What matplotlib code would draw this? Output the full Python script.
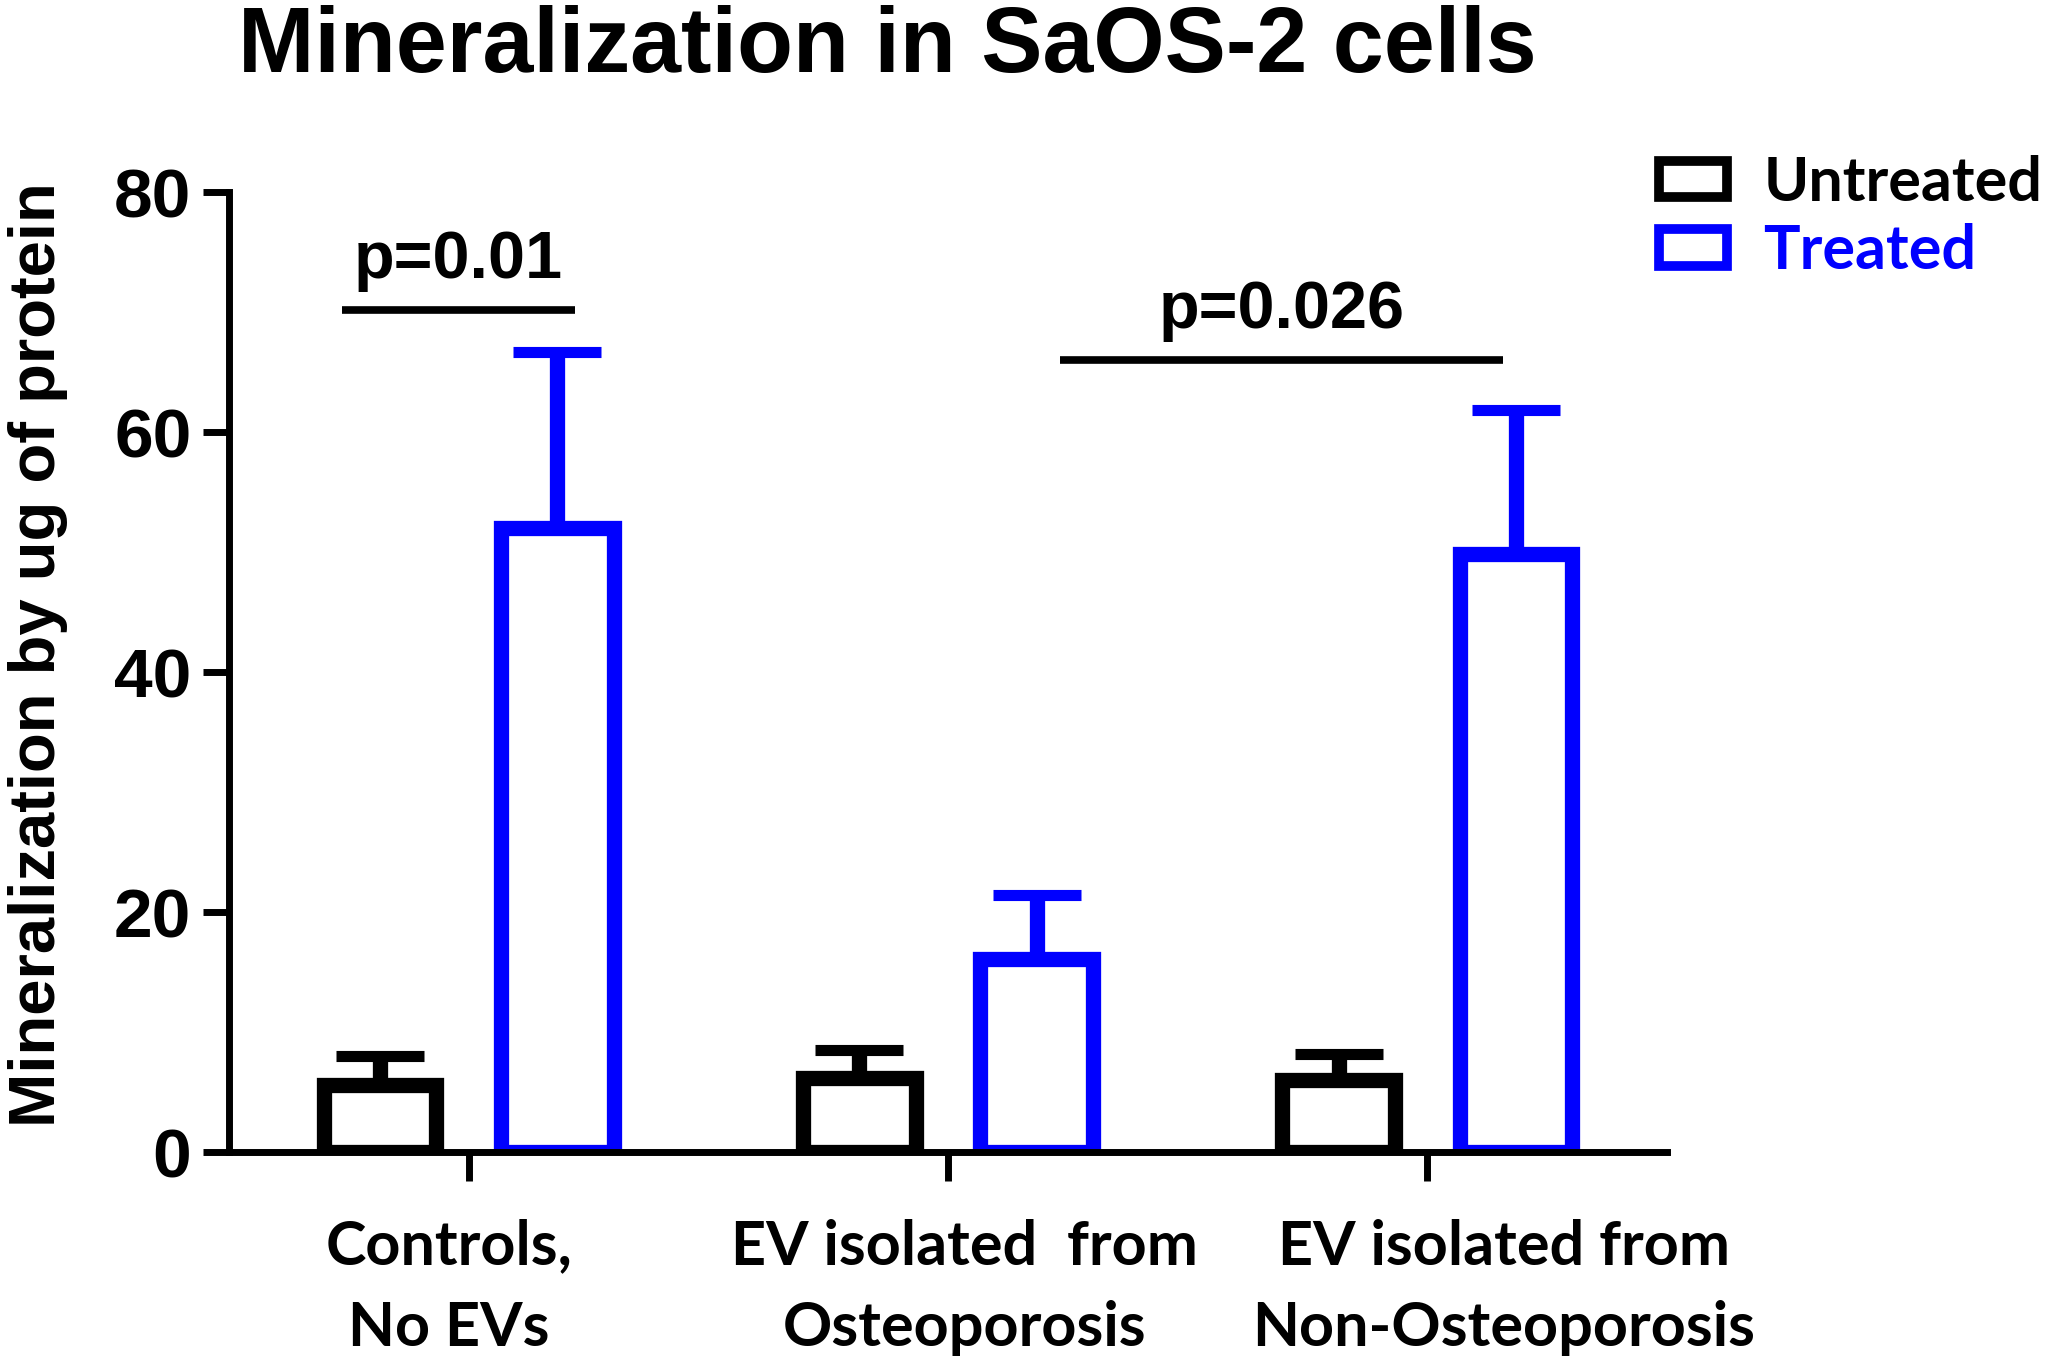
import numpy as np
import matplotlib.pyplot as plt
from matplotlib.patches import Patch

categories = ["Controls,\nNo EVs", "EV isolated  from\nOsteoporosis", "EV isolated from\nNon-Osteoporosis"]
untreated = [5.6, 6.2, 6.0]
untreated_err = [2.4, 2.3, 2.2]
treated = [52.0, 16.1, 49.8]
treated_err = [14.7, 5.3, 12.0]
series_names = ["Untreated", "Treated"]
pvalues = ["p=0.01", "p=0.026"]
p_levels = [70.2, 66.0]
p_spans = [(-0.264, 0.221), (1.234, 2.158)]

BLUE = "#0000ff"
x = np.arange(len(categories))
w = 0.235
off = 0.185

fig = plt.figure(figsize=(20.5, 13.63), dpi=100)
ax = fig.add_axes([0.1117, 0.1548, 0.7015, 0.7043])

lw_bar = 11
for vals, errs, sign, col in [(untreated, untreated_err, -1, "black"), (treated, treated_err, 1, BLUE)]:
    ax.bar(x + sign * off, vals, width=w, facecolor="white", edgecolor=col, linewidth=lw_bar, joinstyle="miter")
    ax.errorbar(x + sign * off, vals, yerr=[np.zeros(len(vals)), errs], fmt="none",
                ecolor=col, elinewidth=lw_bar, capsize=32, capthick=8)

# significance bars
for (x0, x1), lev, txt in zip(p_spans, p_levels, pvalues):
    ax.plot([x0, x1], [lev, lev], color="black", linewidth=5.5, solid_capstyle="butt")
    ax.text((x0 + x1) / 2, lev + 1.5, txt, ha="center", va="bottom",
            fontsize=48, fontweight="bold", family="Liberation Sans")

ax.set_xlim(-0.5, 2.5)
ax.set_ylim(0, 80)
ax.set_yticks([0, 20, 40, 60, 80])
ax.set_xticks(x)
ax.set_xticklabels([""] * len(categories))
# category labels, a little off-centre like in the original
shifts = [-14, 12, 55]
for xi, cat, dx in zip(x, categories, shifts):
    ax.annotate(cat, xy=(xi, 0), xycoords=("data", "axes fraction"), xytext=(dx, -48),
                textcoords="offset points", ha="center", va="top", fontsize=44,
                fontweight="bold", family="Lato", linespacing=1.56, annotation_clip=False)
for lab in ax.get_yticklabels():
    lab.set_fontsize(50)
    lab.set_fontweight("bold")
    lab.set_family("Liberation Sans")
ax.tick_params(axis="y", length=19, width=5, pad=8)
ax.tick_params(axis="x", length=21, width=5)

for s in ["top", "right"]:
    ax.spines[s].set_visible(False)
for s in ["left", "bottom"]:
    ax.spines[s].set_linewidth(5)

ax.set_ylabel("Mineralization by ug of protein", fontsize=47, fontweight="bold",
              family="Liberation Sans")
ax.yaxis.set_label_coords(-0.112, 0.518)

fig.suptitle("Mineralization in SaOS-2 cells", x=0.433, y=0.996, fontsize=66,
             fontweight="bold", family="Liberation Sans")

handles = [Patch(facecolor="white", edgecolor="black", linewidth=7),
           Patch(facecolor="white", edgecolor=BLUE, linewidth=7)]
leg = fig.legend(handles, series_names, loc="upper left", bbox_to_anchor=(0.8095, 0.8865),
                 frameon=False, prop={"family": "Lato", "weight": "bold", "size": 44},
                 borderaxespad=0, borderpad=0,
                 handlelength=1.1, handleheight=0.55, handletextpad=0.6, labelspacing=0.2)
leg.get_texts()[1].set_color(BLUE)

fig.savefig("out.png", dpi=100)
